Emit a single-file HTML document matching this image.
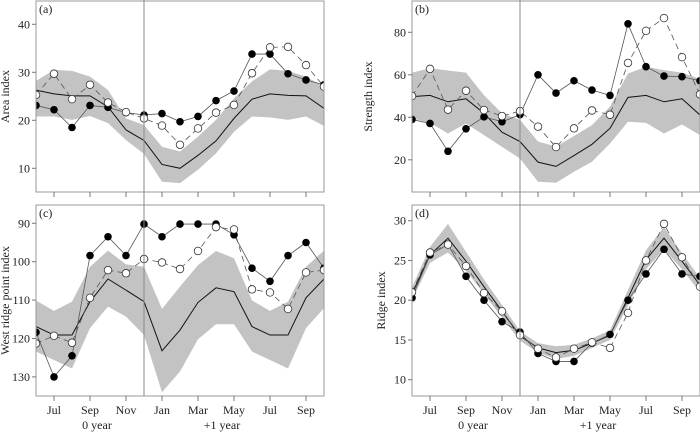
<!DOCTYPE html>
<html><head><meta charset="utf-8"><style>
html,body{margin:0;padding:0;background:#fff;}
svg{display:block;font-family:"Liberation Serif",serif;}
</style></head><body>
<svg id="chart" width="700" height="434" viewBox="0 0 700 434" xmlns="http://www.w3.org/2000/svg"></svg>
<script>
const months = ["Jun","Jul","Aug","Sep","Oct","Nov","Dec","Jan","Feb","Mar","Apr","May","Jun","Jul","Aug","Sep","Oct"];
const tickLabels = ["Jul","Sep","Nov","Jan","Mar","May","Jul","Sep"];
const tickIndex = [1,3,5,7,9,11,13,15];

const aMean = [26.3,25.5,25.1,25.1,22.8,18.0,15.8,10.8,10.0,12.7,15.7,20.4,24.4,25.5,25.2,25.1,22.5];
const aUpper = [28.2,30.5,30.3,29.1,26.3,20.4,19.0,14.5,13.5,16.6,20.1,24.6,28.1,30.6,30.3,29.1,27.0];
const aLower = [20.8,20.8,20.1,20.9,19.4,15.9,13.0,7.2,6.9,9.7,13.1,17.6,20.8,20.6,20.1,20.8,18.8];
const aFilled = [23.1,22.2,18.5,23.1,22.7,21.6,21.1,21.4,19.7,20.8,24.1,26.1,33.8,33.8,29.7,28.4,27.4];
const aOpen = [25.3,29.7,24.4,27.4,23.7,21.7,20.4,18.9,14.9,18.3,21.6,23.2,29.8,35.2,35.3,31.5,27.0];

const bMean = [49.7,50.3,47.3,48.7,41.9,33.0,28.6,18.9,16.9,22.0,27.3,34.8,49.4,50.3,47.3,48.7,41.1];
const bUpper = [61,63,62,61,50.4,41.9,38.8,28.6,26.2,31.2,36.3,45.0,60.6,63.8,62.2,61,58];
const bLower = [39.5,37.4,32.4,37.1,31.6,26.1,20.6,9.7,9.2,14.4,19.1,27.7,37.9,37.4,32.4,36.6,31.6];
const bFilled = [39.0,37.1,24.0,34.6,40.2,37.9,41.2,60,51.4,57.2,52.8,50.3,84,63.8,59.4,59.1,57.2];
const bOpen = [50,62.8,43.6,52.5,43.4,40.6,42.9,35.6,26.0,34.8,43.2,41.2,65.6,80.7,86.7,68.3,50.8];

const cMean = [116.9,119.1,119.1,110.4,104.5,107.4,110.4,123.2,117.8,110.6,106.8,107.8,116.9,119.1,119.1,109.4,104.5];
const cUpper = [110.1,112.8,110.4,101.3,97.1,100.7,101.3,112.3,106.5,100.9,97.2,99.1,110.1,112.8,110.4,101.3,97.1];
const cLower = [123.4,125.6,127.8,117.3,111.7,114.3,119.1,134,128.6,120.2,116.3,116.3,123.4,125.6,127.8,117.3,112.1];
const cFilled = [118.4,130,124.5,98.4,93.5,98.4,90.2,93.5,90.2,90.2,90.2,93.0,101.7,105.1,98.4,95.0,101.7];
const cOpen = [121.3,119.3,121.1,109.4,102.2,103.0,99.3,100.2,101.9,97.2,91.0,91.6,107.2,108.0,112.3,102.8,102.2];

const dMean = [20.8,25.7,27.8,24.9,21.7,18.6,15.5,14.0,13.4,13.7,14.6,15.6,20.3,25.1,27.8,24.9,21.9];
const dUpper = [21.6,26.7,29.6,26.1,22.6,19.4,16.1,14.6,14.2,14.4,15.2,16.2,21.3,26.3,29.2,25.9,22.8];
const dLower = [20.0,24.7,26.0,23.7,20.8,17.8,14.9,13.4,12.6,13.0,14.0,15.0,19.3,23.9,26.4,23.9,21.0];
const dFilled = [20.3,25.7,27.0,23.0,20.0,17.3,16.0,13.3,12.3,12.3,14.6,15.7,20.0,23.3,26.4,23.3,23.0];
const dOpen = [21.0,26.0,27.0,24.3,20.9,18.6,15.6,13.9,12.8,13.9,14.7,14.0,18.4,25.0,29.6,25.4,21.7];

const svg = document.getElementById('chart');
const NS = 'http://www.w3.org/2000/svg';
function mk(tag, attrs, parent){
  const e = document.createElementNS(NS, tag);
  for (const k in attrs) e.setAttribute(k, attrs[k]);
  (parent||svg).appendChild(e);
  return e;
}
const defs = mk('defs', {});
let clipN = 0;

function panel(cfg){
  const g = mk('g', {});
  
  
  const L = cfg.left, R = cfg.left + 288, T = cfg.top, B = cfg.bottom;
  const xs = i => L + 18 * i;
  const ys = v => cfg.y0 + (cfg.v0 - v) * cfg.k;
  const cid = 'clip' + (clipN++);
  const cp = mk('clipPath', {id: cid}, defs);
  mk('rect', {x: L, y: T, width: 288, height: B-T}, cp);
  const dg = mk('g', {'clip-path': 'url(#'+cid+')'}, g);
  
  
  let pts = cfg.upper.map((v,i)=>xs(i)+','+ys(v));
  for (let i = cfg.lower.length-1; i >= 0; i--) pts.push(xs(i)+','+ys(cfg.lower[i]));
  const band = mk('polygon', {points: pts.join(' '), fill:'#c3c3c3', stroke:'none'}, dg);
  
  
  const mean = mk('polyline', {points: cfg.mean.map((v,i)=>xs(i)+','+ys(v)).join(' '), fill:'none', stroke:'#111', 'stroke-width':1}, dg);
  
  
  const fl = mk('polyline', {points: cfg.filled.map((v,i)=>xs(i)+','+ys(v)).join(' '), fill:'none', stroke:'#555', 'stroke-width':0.8}, dg);
  
  
  const ol = mk('polyline', {points: cfg.open.map((v,i)=>xs(i)+','+ys(v)).join(' '), fill:'none', stroke:'#555', 'stroke-width':0.8, 'stroke-dasharray':'6,4'}, dg);
  
  
  cfg.filled.forEach((v,i)=>{
    const c = mk('circle', {cx: xs(i), cy: ys(v), r: 3.8, fill:'#000'}, dg);
    
    
  });
  cfg.open.forEach((v,i)=>{
    const c = mk('circle', {cx: xs(i), cy: ys(v), r: 3.8, fill:'#fff', stroke:'#333', 'stroke-width':0.8}, dg);
    
    
  });
  const frame = mk('rect', {x: L, y: T, width: 288, height: B-T, fill:'none', stroke:'#999', 'stroke-width':1}, g);
  
  
  const lab = mk('text', {x: L+3, y: T+12, 'font-size':12, fill:'#222'}, g);
  lab.textContent = cfg.label;
  
  
  cfg.ticks.forEach(t=>{
    const y = ys(t);
    mk('line', {x1: L-4, x2: L, y1: y, y2: y, stroke:'#777'}, g);
    const tx = mk('text', {x: L-6, y: y+4, 'font-size':12, 'text-anchor':'end', fill:'#222'}, g);
    tx.textContent = t;
    
    
  });
  tickIndex.forEach((ti,j)=>{
    const x = xs(ti);
    mk('line', {x1:x, x2:x, y1:B, y2:B+5, stroke:'#777'}, g);
    if (cfg.xlabels){
      const tx = mk('text', {x:x, y:B+18, 'font-size':12, 'text-anchor':'middle', fill:'#222'}, g);
      tx.textContent = tickLabels[j];
      
      
    }
  });
  if (cfg.xlabels){
    const y0 = mk('text', {x:L+61, y:B+33, 'font-size':12, 'text-anchor':'middle', fill:'#222'}, g);
    y0.textContent = '0  year';
    
    
    const y1 = mk('text', {x:L+186, y:B+33, 'font-size':12, 'text-anchor':'middle', fill:'#222'}, g);
    y1.textContent = '+1  year';
    
    
  }
  const cy = (T+B)/2;
  const yt = mk('text', {x: cfg.ylabX, y: cy, 'font-size':12, 'text-anchor':'middle', fill:'#222', transform:'rotate(-90 '+cfg.ylabX+' '+cy+')'}, g);
  yt.textContent = cfg.ylabel;
  
  
}

panel({name:'panel-a-area', left:36, top:1, bottom:192, y0:24.3, v0:40, k:4.8, mean:aMean, upper:aUpper, lower:aLower, filled:aFilled, open:aOpen, ticks:[40,30,20,10], label:'(a)', ylabel:'Area  index', ylabX:9, xlabels:false});
panel({name:'panel-b-strength', left:412, top:1, bottom:192, y0:32.3, v0:80, k:2.125, mean:bMean, upper:bUpper, lower:bLower, filled:bFilled, open:bOpen, ticks:[80,60,40,20], label:'(b)', ylabel:'Strength  index', ylabX:372, xlabels:false});
panel({name:'panel-c-west-ridge', left:36, top:205, bottom:396, y0:223.3, v0:90, k:-3.84, mean:cMean, upper:cUpper, lower:cLower, filled:cFilled, open:cOpen, ticks:[90,100,110,120,130], label:'(c)', ylabel:'West  ridge  point  index', ylabX:9, xlabels:true});
panel({name:'panel-d-ridge', left:412, top:205, bottom:396, y0:220.7, v0:30, k:7.95, mean:dMean, upper:dUpper, lower:dLower, filled:dFilled, open:dOpen, ticks:[30,25,20,15,10], label:'(d)', ylabel:'Ridge  index', ylabX:385, xlabels:true});

[144, 520].forEach(x=>{
  const l = mk('line', {x1:x, x2:x, y1:0, y2:396, stroke:'#888', 'stroke-width':1});
  
  
});
</script>
</body></html>
